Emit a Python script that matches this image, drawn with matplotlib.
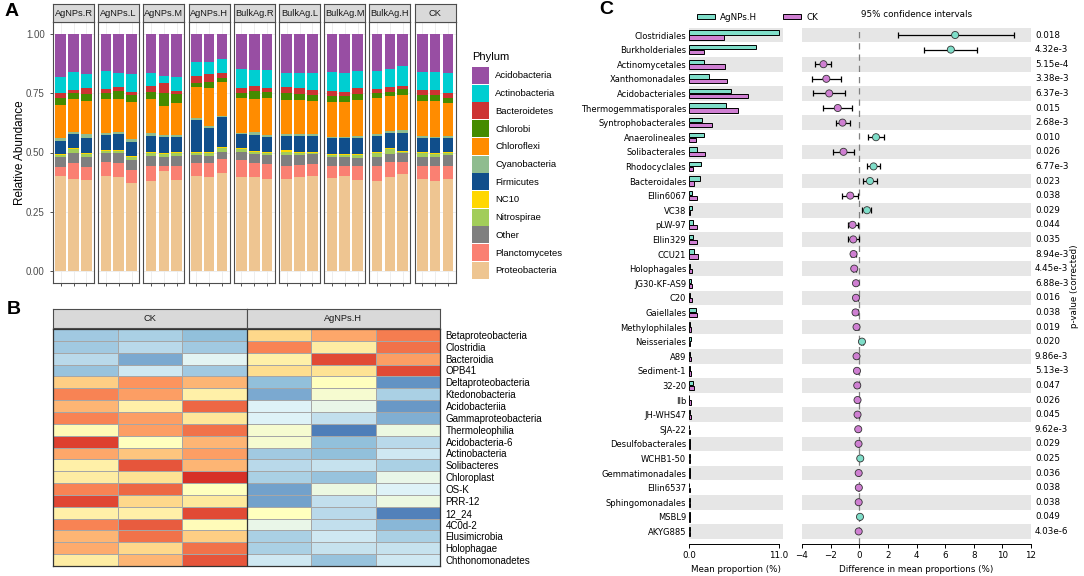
import numpy as np
import matplotlib.pyplot as plt
from matplotlib.colors import LinearSegmentedColormap
from matplotlib.patches import Patch
from matplotlib.transforms import blended_transform_factory

W, H = 1084, 576
ARIAL = 'Liberation Sans'

# ---------------- panel A data (relative abundance, %) ----------------
groups = ['AgNPs.R', 'AgNPs.L', 'AgNPs.M', 'AgNPs.H', 'BulkAg.R',
          'BulkAg.L', 'BulkAg.M', 'BulkAg.H', 'CK']
phyla = ['Acidobacteria', 'Actinobacteria', 'Bacteroidetes', 'Chlorobi',
         'Chloroflexi', 'Cyanobacteria', 'Firmicutes', 'NC10', 'Nitrospirae',
         'Other', 'Planctomycetes', 'Proteobacteria']
phylum_colors = ['#984ea3', '#00ced1', '#cd3333', '#458b00', '#ff8c00',
                 '#8fbc8f', '#104e8b', '#ffd700', '#a2cd5a', '#7f7f7f',
                 '#fa8072', '#eec591']

acido = [18.0, 16.0, 17.0, 15.7, 16.7, 17.1, 16.7, 17.8, 18.3, 11.9, 11.9, 10.5, 15.0, 15.3,
         15.3, 16.7, 16.7, 16.7, 16.0, 16.4, 15.7, 15.5, 14.6, 13.6, 16.0, 16.0, 16.7]
actino = [7.0, 7.5, 6.0, 7.7, 5.8, 7.3, 5.3, 3.1, 5.8, 5.9, 5.0, 5.9, 8.0, 6.7,
          7.7, 5.8, 6.3, 7.0, 8.0, 8.0, 7.3, 7.9, 7.9, 8.4, 7.7, 7.7, 8.4]
bactero = [2.0, 1.5, 2.3, 1.4, 1.7, 1.4, 2.4, 4.2, 1.4, 2.8, 3.3, 2.1, 2.1, 2.0,
           1.4, 2.6, 2.3, 2.1, 2.1, 1.7, 2.5, 1.7, 1.9, 1.4, 2.1, 2.1, 1.8]
chlorobi = [3.0, 2.3, 2.9, 2.5, 3.1, 2.8, 3.2, 5.3, 3.5, 1.9, 2.8, 1.7, 1.8, 3.3,
            2.5, 2.8, 2.6, 2.5, 2.5, 2.8, 2.4, 2.1, 1.7, 2.4, 2.4, 2.4, 2.4]
chloroflexi = [14.0, 13.9, 14.1, 14.3, 13.9, 15.8, 14.3, 12.2, 13.7, 13.1, 15.8, 14.4, 14.7, 13.9,
               15.7, 14.3, 14.3, 14.0, 14.7, 14.4, 15.1, 15.0, 14.8, 14.7, 14.8, 15.1, 13.7]
cyano = [1.0, 1.1, 1.7, 1.0, 1.1, 1.0, 1.1, 0.7, 0.6, 0.7, 0.7, 0.6, 0.7, 1.4,
         0.7, 0.7, 0.7, 0.7, 0.7, 0.7, 0.7, 0.8, 0.7, 1.1, 1.0, 0.7, 1.0]
firmicutes = [5.5, 5.9, 6.3, 6.3, 6.6, 5.9, 6.6, 6.7, 6.3, 13.3, 10.1, 12.3, 5.6, 6.6,
              6.3, 6.0, 6.7, 6.9, 6.6, 6.6, 6.9, 6.6, 6.6, 7.6, 5.6, 6.3, 5.6]
nc10 = [0.5, 0.4, 0.4, 0.4, 0.4, 0.4, 0.4, 0.6, 0.7, 0.4, 0.4, 0.4, 0.6, 0.4,
        0.4, 0.7, 0.4, 0.4, 0.4, 0.4, 0.5, 0.4, 0.4, 0.4, 0.4, 0.4, 0.4]
nitro = [1.0, 1.7, 1.0, 1.0, 1.0, 1.4, 1.4, 1.1, 1.1, 1.0, 1.4, 1.7, 1.1, 1.1,
         1.0, 1.4, 1.0, 0.4, 1.0, 0.7, 1.3, 2.0, 2.0, 0.7, 1.7, 1.0, 1.0]
other = [4.0, 4.2, 4.5, 3.5, 4.2, 4.2, 4.2, 4.2, 4.1, 3.5, 3.1, 3.2, 3.5, 3.8,
         3.9, 4.5, 4.2, 4.1, 3.9, 4.2, 3.5, 3.5, 3.2, 3.5, 3.8, 3.8, 4.5]
plancto = [4.0, 6.5, 5.6, 6.0, 6.0, 5.6, 6.6, 2.1, 6.3, 5.6, 6.0, 5.9, 7.3, 5.9,
           6.3, 5.6, 5.3, 4.9, 4.9, 3.9, 5.6, 6.7, 6.7, 5.3, 5.6, 6.7, 5.6]
proteo = [40.0, 39.0, 38.2, 40.2, 39.5, 37.1, 37.8, 42.0, 38.2, 39.9, 39.5, 41.3, 39.6, 39.6,
          38.8, 38.9, 39.5, 40.3, 39.2, 40.2, 38.5, 37.8, 39.5, 40.9, 38.9, 37.8, 38.9]

# ---------------- panel B data (scaled abundance, 0 = low, 1 = high) ----------------
heat_rows = ['Betaproteobacteria', 'Clostridia', 'Bacteroidia', 'OPB41',
             'Deltaproteobacteria', 'Ktedonobacteria', 'Acidobacteriia',
             'Gammaproteobacteria', 'Thermoleophilia', 'Acidobacteria-6',
             'Actinobacteria', 'Solibacteres', 'Chloroplast', 'OS-K', 'PRR-12',
             '12_24', '4C0d-2', 'Elusimicrobia', 'Holophagae', 'Chthonomonadetes']
heat_ck = [[0.20, 0.22, 0.17], [0.20, 0.25, 0.20], [0.25, 0.12, 0.35], [0.18, 0.30, 0.20],
           [0.70, 0.82, 0.75], [0.85, 0.80, 0.58], [0.75, 0.58, 0.90], [0.85, 0.80, 0.63],
           [0.53, 0.80, 0.88], [0.97, 0.50, 0.75], [0.78, 0.72, 0.80], [0.58, 0.93, 0.75],
           [0.60, 0.65, 1.00], [0.85, 0.90, 0.50], [0.96, 0.68, 0.62], [0.58, 0.58, 0.95],
           [0.85, 0.92, 0.52], [0.75, 0.88, 0.70], [0.77, 0.68, 0.88], [0.60, 0.75, 0.93]]
heat_ag = [[0.68, 0.78, 0.86], [0.85, 0.60, 0.88], [0.58, 0.95, 0.80], [0.67, 0.65, 0.95],
           [0.17, 0.50, 0.07], [0.12, 0.45, 0.22], [0.33, 0.38, 0.08], [0.33, 0.27, 0.13],
           [0.45, 0.02, 0.40], [0.45, 0.17, 0.25], [0.20, 0.17, 0.30], [0.25, 0.28, 0.22],
           [0.22, 0.18, 0.38], [0.10, 0.40, 0.33], [0.10, 0.27, 0.40], [0.50, 0.25, 0.03],
           [0.38, 0.27, 0.15], [0.22, 0.30, 0.22], [0.22, 0.28, 0.28], [0.30, 0.18, 0.30]]

# ---------------- panel C data ----------------
orders = ['Clostridiales', 'Burkholderiales', 'Actinomycetales', 'Xanthomonadales',
          'Acidobacteriales', 'Thermogemmatisporales', 'Syntrophobacterales',
          'Anaerolineales', 'Solibacterales', 'Rhodocyclales', 'Bacteroidales',
          'Ellin6067', 'VC38', 'pLW-97', 'Ellin329', 'CCU21', 'Holophagales',
          'JG30-KF-AS9', 'C20', 'Gaiellales', 'Methylophilales', 'Neisseriales',
          'A89', 'Sediment-1', '32-20', 'IIb', 'JH-WHS47', 'SJA-22',
          'Desulfobacterales', 'WCHB1-50', 'Gemmatimonadales', 'Ellin6537',
          'Sphingomonadales', 'MSBL9', 'AKYG885']
mean_ag = [11.0, 8.2, 1.9, 2.4, 5.1, 4.5, 1.6, 1.9, 0.95, 1.5, 1.3, 0.35, 0.35, 0.55,
           0.55, 0.65, 0.15, 0.25, 0.15, 0.9, 0.15, 0.3, 0.1, 0.1, 0.55, 0.05, 0.1,
           0.05, 0.08, 0.12, 0.08, 0.06, 0.08, 0.1, 0.07]
mean_ck = [4.3, 1.85, 4.4, 4.7, 7.3, 6.0, 2.8, 0.8, 2.0, 0.45, 0.6, 1.0, 0.15, 1.0,
           1.0, 1.1, 0.4, 0.4, 0.35, 1.0, 0.3, 0.1, 0.3, 0.3, 0.65, 0.2, 0.3,
           0.1, 0.12, 0.08, 0.12, 0.1, 0.12, 0.07, 0.12]
diff = [6.7, 6.4, -2.5, -2.3, -2.1, -1.5, -1.17, 1.17, -1.1, 1.0, 0.75, -0.63, 0.54,
        -0.47, -0.42, -0.4, -0.35, -0.23, -0.23, -0.26, -0.19, 0.19, -0.19, -0.16,
        -0.14, -0.12, -0.12, -0.07, -0.05, 0.07, -0.04, -0.03, -0.04, 0.05, -0.04]
ci_low = [2.7, 4.5, -3.1, -3.3, -3.2, -2.5, -1.65, 0.58, -1.86, 0.56, 0.26, -1.19, 0.16,
          -0.82, -0.77, -0.58, -0.47, -0.33, -0.35, -0.41, -0.31, 0.09, -0.28, -0.25,
          -0.27, -0.2, -0.22, -0.12, -0.09, 0.03, -0.08, -0.06, -0.07, 0.02, -0.06]
ci_high = [10.8, 8.2, -2.0, -1.3, -1.0, -0.5, -0.68, 1.75, -0.35, 1.47, 1.26, -0.07, 0.84,
           -0.09, -0.05, -0.21, -0.23, -0.13, -0.11, -0.11, -0.07, 0.29, -0.10, -0.07,
           -0.01, -0.04, -0.02, -0.02, -0.01, 0.11, -0.01, -0.01, -0.01, 0.08, -0.02]
pvals = ['0.018', '4.32e-3', '5.15e-4', '3.38e-3', '6.37e-3', '0.015', '2.68e-3',
         '0.010', '0.026', '6.77e-3', '0.023', '0.038', '0.029', '0.044', '0.035',
         '8.94e-3', '4.45e-3', '6.88e-3', '0.016', '0.038', '0.019', '0.020',
         '9.86e-3', '5.13e-3', '0.047', '0.026', '0.045', '9.62e-3', '0.029',
         '0.025', '0.036', '0.038', '0.038', '0.049', '4.03e-6']

ag_col = '#7fdec9'
ck_col = '#cf7fd2'


def box(left, top, width, height):
    # pixel box -> figure fraction
    return [left / W, 1 - (top + height) / H, width / W, height / H]


def strip(left, top, width, height, label):
    sa = fig.add_axes(box(left, top, width, height))
    sa.set_facecolor('#d9d9d9')
    sa.set_xticks([])
    sa.set_yticks([])
    for s in sa.spines.values():
        s.set_color('#4d4d4d')
        s.set_linewidth(0.8)
    sa.text(0.5, 0.5, label, ha='center', va='center', fontsize=6.7,
            family=ARIAL, color='#1a1a1a', transform=sa.transAxes)


fig = plt.figure(figsize=(W / 100, H / 100), dpi=100)

# ================= A =================
ab = np.array([acido, actino, bactero, chlorobi, chloroflexi, cyano,
               firmicutes, nc10, nitro, other, plancto, proteo])
ab = ab / ab.sum(axis=0)

for g, name in enumerate(groups):
    left = 53 + g * 45.2
    ax = fig.add_axes(box(left, 22, 41, 261))
    x = np.arange(1, 4)
    bottom = np.zeros(3)
    for k in reversed(range(len(phyla))):
        vals = ab[k, g * 3:(g + 1) * 3]
        ax.bar(x, vals, 0.82, bottom=bottom, color=phylum_colors[k], linewidth=0, zorder=2)
        bottom += vals
    ax.set_xlim(0.4, 3.6)
    ax.set_ylim(-0.05, 1.05)
    ax.set_xticks(x)
    ax.set_xticklabels([])
    ax.set_yticks([0, 0.25, 0.5, 0.75, 1.0])
    ax.grid(True, color='#ebebeb', linewidth=0.6, zorder=0)
    ax.tick_params(length=2.5, color='#333333', width=0.6, labelsize=7,
                   labelcolor='#4d4d4d')
    for s in ax.spines.values():
        s.set_color('#4d4d4d')
        s.set_linewidth(0.8)
    if g == 0:
        ax.set_yticklabels(['0.00', '0.25', '0.50', '0.75', '1.00'], family=ARIAL)
        ax.set_ylabel('Relative Abundance', family=ARIAL, fontsize=8.5)
        ax.yaxis.set_label_coords(-(53 - 26) / 41, 0.5)
    else:
        ax.tick_params(axis='y', left=False, labelleft=False)
    strip(left, 4, 41, 18, name)

fig.text(472 / W, 1 - 57 / H, 'Phylum', family=ARIAL, fontsize=8, va='center', ha='left')
handles = [Patch(facecolor=c, edgecolor='none') for c in phylum_colors]
fig.legend(handles, phyla, loc='upper left', bbox_to_anchor=(472 / W, 1 - 67 / H),
           frameon=False, handlelength=1.8, handleheight=2.4, labelspacing=0.07,
           handletextpad=0.65, borderpad=0, borderaxespad=0,
           prop={'family': ARIAL, 'size': 6.8})

# ================= B =================
cmap = LinearSegmentedColormap.from_list(
    'rdylbu', ['#4575b4', '#91bfdb', '#e0f3f8', '#ffffbf', '#fee090', '#fc8d59', '#d73027'])
heat = np.hstack([np.array(heat_ck), np.array(heat_ag)])
axh = fig.add_axes(box(53, 329, 387, 237))
axh.pcolormesh(heat, cmap=cmap, vmin=0, vmax=1, edgecolors='#a6a6a6', linewidth=0.6)
axh.axvline(3, color='#333333', linewidth=0.9)
axh.set_xlim(0, 6)
axh.set_ylim(len(heat_rows), 0)
axh.set_xticks([])
axh.yaxis.tick_right()
axh.set_yticks(np.arange(len(heat_rows)) + 0.5)
axh.set_yticklabels(heat_rows, family=ARIAL, fontsize=7)
axh.tick_params(length=0, pad=4)
for s in axh.spines.values():
    s.set_color('#333333')
    s.set_linewidth(0.9)
strip(53, 309, 193.5, 19, 'CK')
strip(246.5, 309, 193.5, 19, 'AgNPs.H')

# ================= C =================
n = len(orders)
y = np.arange(n)
ymax = 34.86

axl = fig.add_axes(box(689, 27.7, 94, 516.3))
axr = fig.add_axes(box(802, 27.7, 229, 516.3))
for a in (axl, axr):
    for i in range(0, n, 2):
        a.axhspan(i - 0.5, i + 0.5, color='#e6e6e6', linewidth=0, zorder=0)
    a.set_ylim(ymax, -0.5)
    for side in ('left', 'right', 'top'):
        a.spines[side].set_visible(False)
    a.spines['bottom'].set_linewidth(0.7)
    a.tick_params(axis='x', labelsize=6.3, length=3, width=0.7, pad=2)

axl.barh(y - 0.17, mean_ag, 0.3, color=ag_col, edgecolor='black', linewidth=0.7, zorder=2)
axl.barh(y + 0.17, mean_ck, 0.3, color=ck_col, edgecolor='black', linewidth=0.7, zorder=2)
axl.set_xlim(0, 11.55)
axl.spines['bottom'].set_bounds(0, 11)
axl.set_xticks([0, 11])
axl.set_xticklabels(['0.0', '11.0'])
axl.set_yticks(y)
axl.set_yticklabels(orders, fontsize=6)
axl.tick_params(axis='y', length=0, pad=2)
axl.set_xlabel('Mean proportion (%)', fontsize=6.3, labelpad=4)

axr.axvline(0, color='#7f7f7f', linestyle=(0, (5, 4)), linewidth=0.9, zorder=1)
diff_arr = np.array(diff)
err = [diff_arr - np.array(ci_low), np.array(ci_high) - diff_arr]
axr.errorbar(diff, y, xerr=err, fmt='none', ecolor='black', elinewidth=0.9,
             capsize=2.2, capthick=0.9, zorder=2)
pt_cols = [ag_col if d > 0 else ck_col for d in diff]
axr.scatter(diff, y, s=26, c=pt_cols, edgecolors='#333333', linewidths=0.6, zorder=3)
axr.set_xlim(-4, 12)
axr.spines['bottom'].set_bounds(-4, 12)
axr.set_xticks(np.arange(-4, 13, 2))
axr.set_yticks([])
axr.set_xlabel('Difference in mean proportions (%)', fontsize=6.3, labelpad=4)
axr.set_title('95% confidence intervals', fontsize=6.3, pad=8)
trans = blended_transform_factory(axr.transAxes, axr.transData)
for i, p in enumerate(pvals):
    axr.text(1.017, i, p, transform=trans, fontsize=6.3, va='center', ha='left')
axr.text(1.19, 0.5, 'p-value (corrected)', transform=axr.transAxes, rotation=90,
         fontsize=6.3, va='center', ha='center')

fig.legend([Patch(facecolor=ag_col, edgecolor='black', linewidth=0.7),
            Patch(facecolor=ck_col, edgecolor='black', linewidth=0.7)],
           ['AgNPs.H', 'CK'], loc='center left', bbox_to_anchor=(693 / W, 1 - 17 / H),
           ncol=2, frameon=False, fontsize=6.3, handlelength=2.0, handleheight=0.6,
           columnspacing=3.0, handletextpad=0.6, borderpad=0)

# panel letters
fig.text(5 / W, 1 - 12 / H, 'A', fontsize=14, fontweight='bold', family=ARIAL, va='center')
fig.text(7 / W, 1 - 309 / H, 'B', fontsize=14, fontweight='bold', family=ARIAL, va='center')
fig.text(599 / W, 1 - 10 / H, 'C', fontsize=14, fontweight='bold', family=ARIAL, va='center')

fig.savefig('out.png', dpi=100)
